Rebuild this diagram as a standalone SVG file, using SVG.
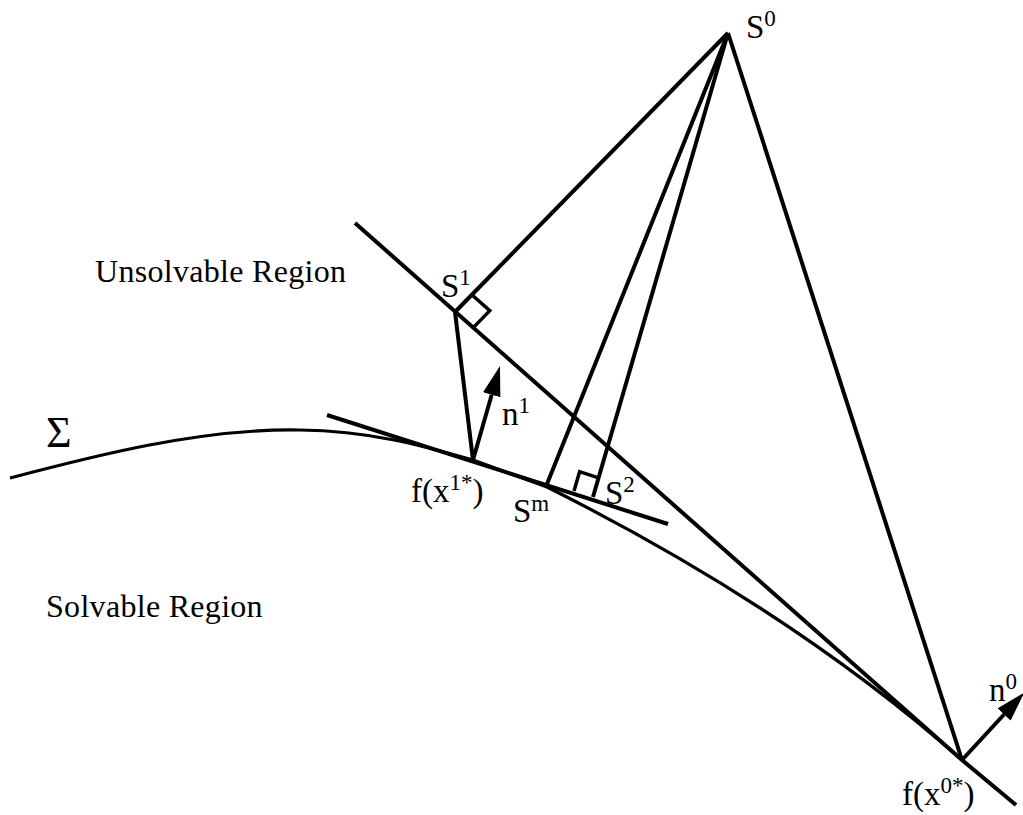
<svg xmlns="http://www.w3.org/2000/svg" width="1023" height="815" viewBox="0 0 1023 815">
<style>
.ln{stroke:#000;stroke-width:4;fill:none;stroke-linecap:butt}
.cv{stroke:#000;stroke-width:3.2;fill:none}
.rt{stroke:#000;stroke-width:3.5;fill:none}
text{font-family:"Liberation Serif","Times New Roman",serif;fill:#000}
.lb{font-size:33px}
.sp{font-size:23px}
.rg{font-size:32px;letter-spacing:0.3px}
</style>
<defs>
<marker id="ah" markerUnits="userSpaceOnUse" markerWidth="32" markerHeight="20" refX="0" refY="9" orient="auto" viewBox="0 0 32 18">
<path d="M0,0 L30,9 L0,18 Z" fill="#000"/>
</marker>
</defs>
<rect width="1023" height="815" fill="#fff"/>
<g id="sigma-curve">
<path class="cv" d="M10,478 C90,457 200,428 300,430 C370,431 420,445 473,460 L547,487 C697,562 842,654 962,760"/>
</g>
<g id="connectors">
<line class="ln" x1="355" y1="223" x2="962" y2="760"/>
<line class="ln" x1="962" y1="760" x2="1016" y2="805"/>
<line class="ln" x1="327" y1="415" x2="668" y2="524"/>
<line class="ln" x1="728" y1="33" x2="455" y2="312"/>
<line class="ln" x1="728" y1="33" x2="547" y2="484"/>
<line class="ln" x1="728" y1="33" x2="593" y2="497"/>
<line class="ln" x1="728" y1="33" x2="962" y2="760"/>
<line class="ln" x1="455" y1="312" x2="473" y2="460"/>
<line class="ln" x1="473" y1="460" x2="491.7" y2="394.8" marker-end="url(#ah)"/>
<line class="ln" x1="962" y1="760" x2="1004" y2="714.5" marker-end="url(#ah)"/>
<polyline class="rt" points="471.8,294.8 489.8,310.7 473,327.9"/>
<polyline class="rt" points="598.6,477.8 579.6,471.7 574,490.9"/>
</g>
<g id="label-S0"><text class="lb" x="746" y="38">S<tspan class="sp" dy="-12">0</tspan></text></g>
<g id="label-S1"><text class="lb" x="441" y="297">S<tspan class="sp" dy="-12">1</tspan></text></g>
<g id="label-n1"><text class="lb" x="502" y="425">n<tspan class="sp" dy="-12">1</tspan></text></g>
<g id="label-Sigma"><text x="46" y="447" font-size="44">Σ</text></g>
<g id="label-fx1"><text class="lb" x="411" y="502">f(x<tspan class="sp" dy="-12">1*</tspan><tspan dy="12">)</tspan></text></g>
<g id="label-Sm"><text class="lb" x="513" y="522">S<tspan class="sp" dy="-11">m</tspan></text></g>
<g id="label-S2"><text class="lb" x="605" y="504">S<tspan class="sp" dy="-12">2</tspan></text></g>
<g id="label-n0"><text class="lb" x="989" y="701">n<tspan class="sp" dy="-12">0</tspan></text></g>
<g id="label-fx0"><text class="lb" x="902" y="805">f(x<tspan class="sp" dy="-12">0*</tspan><tspan dy="12">)</tspan></text></g>
<g id="label-unsolvable"><text class="rg" x="95" y="282">Unsolvable Region</text></g>
<g id="label-solvable"><text class="rg" x="46" y="617">Solvable Region</text></g>
</svg>
